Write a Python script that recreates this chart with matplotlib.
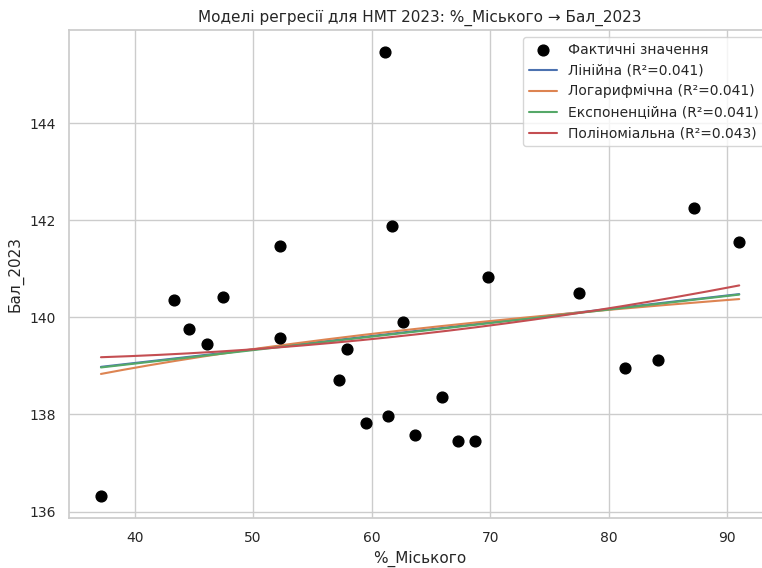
import numpy as np
import matplotlib
matplotlib.use("Agg")
import matplotlib.pyplot as plt
import seaborn as sns

sns.set_theme(style="whitegrid")

# data
urban_pct = [37.16, 43.29, 44.58, 46.10, 47.45, 52.27, 52.29, 57.94, 57.24, 61.13,
             61.74, 62.67, 59.55, 61.37, 63.68, 65.96, 67.26, 68.74, 69.79, 77.47,
             81.38, 84.19, 87.17, 91.00]
score_2023 = [136.33, 140.35, 139.77, 139.45, 140.41, 141.47, 139.57, 139.35, 138.72, 145.46,
              141.88, 139.91, 137.82, 137.97, 137.57, 138.36, 137.45, 137.45, 140.83, 140.50,
              138.96, 139.12, 142.25, 141.56]
r2_labels = ["0.041", "0.041", "0.041", "0.043"]

x = np.array(urban_pct)
y = np.array(score_2023)
xs = np.linspace(x.min(), x.max(), 200)

# linear
p_lin = np.polyfit(x, y, 1)
y_lin = np.polyval(p_lin, xs)
# logarithmic
p_log = np.polyfit(np.log(x), y, 1)
y_log = np.polyval(p_log, np.log(xs))
# exponential
p_exp = np.polyfit(x, np.log(y), 1)
y_exp = np.exp(np.polyval(p_exp, xs))
# polynomial (2nd degree)
p_poly = np.polyfit(x, y, 2)
y_poly = np.polyval(p_poly, xs)

fig, ax = plt.subplots(figsize=(7.62, 5.68), dpi=100)

ax.scatter(x, y, color="black", s=60, label="Фактичні значення", zorder=3)
ax.plot(xs, y_lin, label=f"Лінійна (R²={r2_labels[0]})")
ax.plot(xs, y_log, label=f"Логарифмічна (R²={r2_labels[1]})")
ax.plot(xs, y_exp, label=f"Експоненційна (R²={r2_labels[2]})")
ax.plot(xs, y_poly, label=f"Поліноміальна (R²={r2_labels[3]})")

ax.set_title("Моделі регресії для НМТ 2023: %_Міського → Бал_2023", fontsize=11)
ax.set_xlabel("%_Міського", fontsize=11)
ax.set_ylabel("Бал_2023", fontsize=11)
ax.tick_params(axis="both", labelsize=10)
ax.legend(loc="upper right", fontsize=10)

# the reference is cropped on the right, so the axes run past the edge
fig.subplots_adjust(left=0.0906, right=1.012, top=0.947, bottom=0.0885)
plt.savefig("out.png", dpi=100)
